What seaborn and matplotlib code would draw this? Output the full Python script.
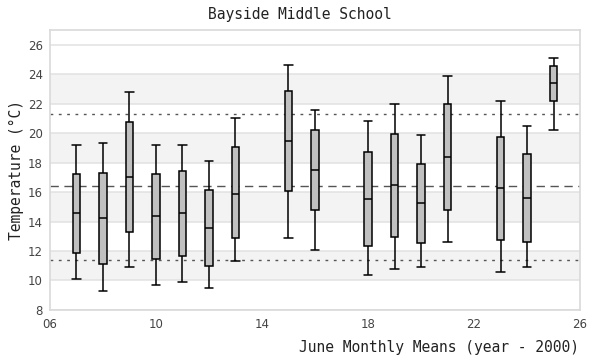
import matplotlib
matplotlib.use("Agg")
import matplotlib.pyplot as plt
import seaborn as sns
import pandas as pd

# June monthly means, summarised per year (year - 2000)
years   = [7, 8, 9, 10, 11, 12, 13, 15, 16, 18, 19, 20, 21, 23, 24, 25]
mins    = [10.1, 9.3, 10.9, 9.7, 9.9, 9.5, 11.3, 12.9, 12.1, 10.4, 10.8, 10.9, 12.6, 10.6, 10.9, 20.2]
q1s     = [11.85, 11.1, 13.3, 11.45, 11.65, 11.0, 12.9, 16.05, 14.8, 12.35, 12.95, 12.55, 14.8, 12.75, 12.6, 22.2]
medians = [14.6, 14.25, 17.0, 14.35, 14.6, 13.55, 15.9, 19.45, 17.5, 15.5, 16.5, 15.25, 18.4, 16.25, 15.6, 23.4]
q3s     = [17.2, 17.3, 20.75, 17.2, 17.45, 16.15, 19.05, 22.85, 20.2, 18.7, 19.95, 17.9, 22.0, 19.75, 18.6, 24.55]
maxs    = [19.2, 19.3, 22.8, 19.2, 19.2, 18.1, 21.0, 24.6, 21.55, 20.8, 22.0, 19.85, 23.85, 22.2, 20.45, 25.1]

overall_mean = 16.4
band_low, band_high = 11.4, 21.3
shaded = [(10, 12), (14, 16), (18, 20), (22, 24)]

# five points per year reproduce min / quartiles / max exactly
rows = []
for yr, a, b, c, d, e in zip(years, mins, q1s, medians, q3s, maxs):
    for v in (a, b, c, d, e):
        rows.append({"year": yr, "temp": v})
df = pd.DataFrame(rows)

sns.set_style("white")
fig = plt.figure(figsize=(6, 3.6), dpi=100)
ax = fig.add_axes([0.0833, 0.139, 0.8834, 0.778])

for lo, hi in shaded:
    ax.axhspan(lo, hi, color="#f3f3f3", zorder=0, lw=0)
for yv in range(8, 27, 2):
    ax.axhline(yv, color="#e2e2e2", lw=1.1, zorder=0.5)

ax.axhline(overall_mean, color="#555555", lw=1.0, ls=(0, (6, 4)), zorder=1)
ax.axhline(band_high, color="#555555", lw=1.0, ls=(0, (2, 4)), zorder=1)
ax.axhline(band_low, color="#555555", lw=1.0, ls=(0, (2, 4)), zorder=1)

sns.boxplot(data=df, x="year", y="temp", native_scale=True, whis=(0, 100),
            width=0.3, color="#c0c0c0", saturation=1, linecolor="black",
            linewidth=1.1, ax=ax, zorder=3)

# widen the caps to the box width
for ln in ax.lines:
    xd, yd = ln.get_xdata(), ln.get_ydata()
    if len(xd) == 2 and yd[0] == yd[1] and abs(xd[1] - xd[0]) < 0.2:
        cx = (xd[0] + xd[1]) / 2
        ln.set_xdata([cx - 0.16, cx + 0.16])

ax.set_xlim(6, 26)
ax.set_ylim(8, 27)
ax.set_xticks([6, 10, 14, 18, 22, 26])
ax.set_xticklabels([f"{t:02d}" for t in [6, 10, 14, 18, 22, 26]])
ax.set_yticks(range(8, 27, 2))
ax.tick_params(length=0, labelsize=8.5, labelcolor="#444444", pad=6)
ax.tick_params(axis="y", pad=5)
for sp in ax.spines.values():
    sp.set_color("#d9d9d9")
    sp.set_linewidth(1.2)

mono = "DejaVu Sans Mono"
fig.text(0.5, 0.96, "Bayside Middle School", ha="center", va="center",
         family=mono, fontsize=10.5, color="#222222")
ax.set_xlabel("")
ax.set_ylabel("")
fig.text(0.028, 0.528, "Temperature (°C)", ha="center", va="center", rotation=90,
         family=mono, fontsize=10.5, color="#222222")
fig.text(0.965, 0.035, "June Monthly Means (year - 2000)", ha="right", va="center",
         family=mono, fontsize=10.5, color="#222222")

fig.savefig("out.png", dpi=100)
